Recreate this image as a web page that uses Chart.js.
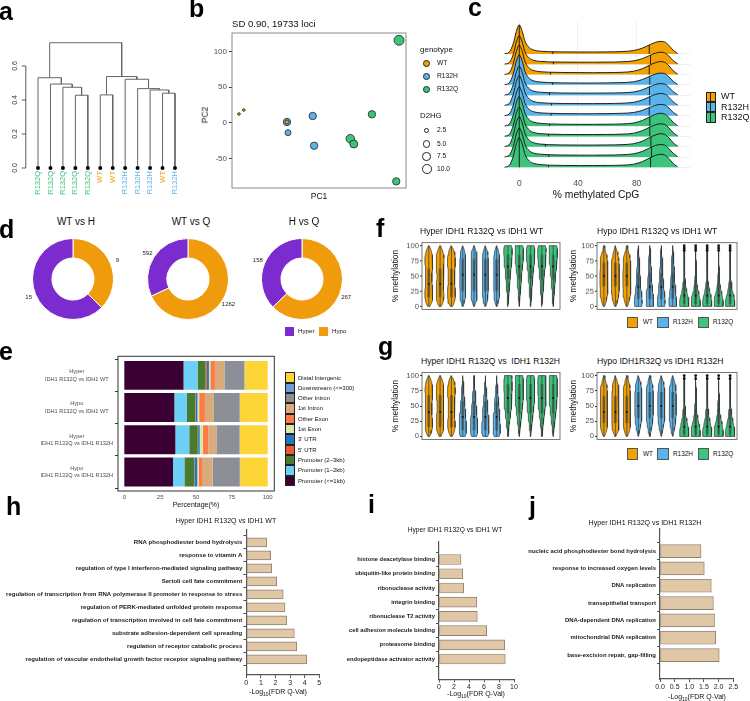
<!DOCTYPE html>
<html>
<head>
<meta charset="utf-8">
<title>IDH1 R132Q methylation panels</title>
<script src="https://cdn.jsdelivr.net/npm/chart.js@4.4.1/dist/chart.umd.min.js"></script>
<style>
  html, body { margin: 0; padding: 0; background: #fff; }
  #fig { position: relative; width: 750px; height: 701px; overflow: hidden;
         font-family: "Liberation Sans", Arial, Helvetica, sans-serif; color: #111; }
  #fig canvas { position: absolute; }
  .t { position: absolute; white-space: nowrap; }
  .key { position: absolute; box-sizing: border-box; }
</style>
</head>
<body>
<div id="fig"></div>
<script>
// ---------- a: hierarchical clustering (hclust style: negative = leaf, positive = earlier merge)
var leafLabels = ["R132Q", "R132Q", "R132Q", "R132Q", "R132Q", "WT", "WT", "R132H", "R132H", "R132H", "WT", "R132H"];
var mergeLeft = [-4, -3, -2, -1, -6, -11, -10, -9, -8, 5, 4];
var mergeRight = [-5, 1, 2, 3, -7, -12, 6, 7, 8, 9, 10];
var mergeHeight = [0.428, 0.475, 0.494, 0.531, 0.430, 0.440, 0.459, 0.467, 0.522, 0.538, 0.737];
var dendroTicks = [0, 0.2, 0.4, 0.6];

// ---------- b: PCA
var pcaGenotype = ["WT", "WT", "WT", "R132H", "R132H", "R132H", "R132H", "R132Q", "R132Q", "R132Q", "R132Q", "R132Q"];
var pc1 = [-100, -93, -31, -31, -29.5, 6, 8, 91, 60, 65, 130, 126];
var pc2 = [12.6, 18.2, 1.4, 1.4, -13.6, 9.8, -31.8, 12.2, -22, -29.4, 115.8, -81.7];
var d2hg = [0.3, 0.3, 1.1, 5.4, 3.2, 5.4, 5.4, 5.4, 7.7, 6.5, 11, 5.4];
var pc2Ticks = [-50, 0, 50, 100];
var d2hgLegend = [2.5, 5.0, 7.5, 10.0];

// ---------- c: ridgelines of % methylated CpG
var ridgeGenotype = ["WT", "WT", "WT", "R132H", "R132H", "R132H", "R132H", "R132Q", "R132Q", "R132Q", "R132Q", "R132Q"];
var ridgeX = [-10, -7, -4, -2, 0, 2, 4, 7, 10, 15, 20, 30, 40, 50, 60, 70, 78, 84, 89, 93, 96, 99, 102, 105, 108];
var ridgeDensity = [
  [0.02, 0.15, 1.05, 2.2, 2.82, 2.2, 1.2, 0.6, 0.37, 0.26, 0.22, 0.2, 0.19, 0.19, 0.2, 0.23, 0.33, 0.57, 0.9, 1.13, 1.22, 1.17, 0.83, 0.35, 0.04],
  [0.02, 0.14, 1.0, 2.15, 2.75, 2.15, 1.15, 0.58, 0.37, 0.27, 0.23, 0.21, 0.2, 0.2, 0.21, 0.24, 0.33, 0.55, 0.86, 1.08, 1.17, 1.12, 0.8, 0.34, 0.04],
  [0.02, 0.15, 1.08, 2.25, 2.85, 2.25, 1.22, 0.61, 0.38, 0.27, 0.23, 0.2, 0.19, 0.18, 0.19, 0.22, 0.32, 0.58, 0.92, 1.16, 1.26, 1.2, 0.85, 0.36, 0.04],
  [0.02, 0.16, 1.1, 2.3, 2.9, 2.3, 1.25, 0.62, 0.38, 0.27, 0.22, 0.19, 0.18, 0.18, 0.19, 0.22, 0.3, 0.52, 0.84, 1.05, 1.14, 1.1, 0.78, 0.33, 0.04],
  [0.02, 0.15, 1.06, 2.22, 2.82, 2.22, 1.2, 0.6, 0.38, 0.28, 0.24, 0.21, 0.2, 0.2, 0.21, 0.23, 0.31, 0.52, 0.83, 1.04, 1.12, 1.08, 0.77, 0.33, 0.04],
  [0.02, 0.16, 1.12, 2.3, 2.88, 2.28, 1.24, 0.61, 0.37, 0.26, 0.22, 0.19, 0.18, 0.18, 0.19, 0.22, 0.31, 0.54, 0.86, 1.08, 1.16, 1.12, 0.8, 0.34, 0.04],
  [0.02, 0.15, 1.05, 2.2, 2.8, 2.2, 1.19, 0.6, 0.38, 0.28, 0.24, 0.21, 0.2, 0.2, 0.21, 0.24, 0.32, 0.53, 0.82, 1.02, 1.1, 1.06, 0.76, 0.32, 0.04],
  [0.02, 0.16, 1.1, 2.28, 2.86, 2.26, 1.22, 0.6, 0.37, 0.26, 0.21, 0.18, 0.17, 0.17, 0.18, 0.21, 0.3, 0.55, 0.9, 1.14, 1.24, 1.18, 0.84, 0.36, 0.04],
  [0.02, 0.15, 1.08, 2.25, 2.84, 2.24, 1.21, 0.6, 0.37, 0.26, 0.22, 0.19, 0.18, 0.18, 0.19, 0.22, 0.31, 0.56, 0.9, 1.13, 1.22, 1.17, 0.83, 0.35, 0.04],
  [0.02, 0.17, 1.15, 2.35, 2.92, 2.3, 1.24, 0.61, 0.37, 0.25, 0.2, 0.17, 0.16, 0.16, 0.17, 0.2, 0.29, 0.54, 0.9, 1.15, 1.26, 1.2, 0.86, 0.37, 0.04],
  [0.02, 0.15, 1.06, 2.22, 2.82, 2.22, 1.2, 0.6, 0.37, 0.27, 0.22, 0.19, 0.18, 0.18, 0.19, 0.22, 0.31, 0.55, 0.89, 1.12, 1.21, 1.16, 0.82, 0.35, 0.04],
  [0.02, 0.16, 1.1, 2.28, 2.88, 2.27, 1.22, 0.6, 0.37, 0.26, 0.21, 0.18, 0.17, 0.17, 0.18, 0.21, 0.3, 0.56, 0.92, 1.16, 1.26, 1.2, 0.85, 0.36, 0.04]
];
var ridgeQ1 = [0, 0, 0, 0, 0, 0, 0, 0, 0, 0, 0, 0];
var ridgeMedian = [22.8, 23.3, 21.3, 22.8, 20.6, 22.0, 21.6, 20.6, 19.9, 17.8, 20.2, 19.9];
var ridgeQ3 = [88.6, 89.5, 88.6, 89.0, 88.8, 89.0, 88.6, 89.0, 89.0, 89.7, 90.2, 89.5];
var ridgeTicks = [0, 40, 80];

// ---------- d: DMR counts
var donutTitles = ["WT vs H", "WT vs Q", "H vs Q"];
var donutHypo = [9, 1262, 267];
var donutHyper = [15, 592, 158];

// ---------- e: genomic annotation (%)
var featureRows = [["Hyper", "IDH1 R132Q vs IDH1 WT"], ["Hypo", "IDH1 R132Q vs IDH1 WT"],
                   ["Hyper", "IDH1 R132Q vs IDH1 R132H"], ["Hypo", "IDH1 R132Q vs IDH1 R132H"]];
var featureNames = ["Promoter (<=1kb)", "Promoter (1\u20132kb)", "Promoter (2\u20133kb)", "5' UTR", "3' UTR",
                    "1st Exon", "Other Exon", "1st Intron", "Other Intron", "Downstream (<=300)", "Distal Intergenic"];
var promoter1kb = [41.3, 34.9, 35.6, 34.0];
var promoter2kb = [9.8, 8.8, 9.7, 7.9];
var promoter3kb = [5.6, 5.8, 5.9, 6.7];
var utr5 = [0.9, 0.3, 0.3, 0.3];
var utr3 = [1.4, 1.2, 1.1, 2.0];
var exon1 = [1.0, 1.2, 2.3, 0.9];
var exonOther = [3.2, 4.0, 3.7, 2.4];
var intron1 = [6.6, 6.3, 5.6, 7.4];
var intronOther = [13.7, 17.9, 16.1, 18.9];
var downstream = [0.3, 0.3, 0.3, 0.3];
var distal = [16.2, 19.3, 19.4, 19.2];
var pctTicks = [0, 25, 50, 75, 100];

// ---------- f, g: violins (half width per 5% level, for WT / R132H / R132Q)
var violinGenotype = ["WT", "WT", "WT", "R132H", "R132H", "R132H", "R132H", "R132Q", "R132Q", "R132Q", "R132Q", "R132Q"];
var violinLevels = [0, 5, 10, 15, 20, 25, 30, 35, 40, 45, 50, 55, 60, 65, 70, 75, 80, 85, 90, 95, 100];
var methTicks = [0, 25, 50, 75, 100];
var fHyperWT = [0.10, 0.22, 0.30, 0.34, 0.35, 0.34, 0.32, 0.30, 0.28, 0.27, 0.27, 0.28, 0.30, 0.32, 0.34, 0.35, 0.34, 0.30, 0.24, 0.15, 0.03];
var fHyperH = [0.04, 0.12, 0.18, 0.21, 0.23, 0.24, 0.25, 0.25, 0.25, 0.25, 0.25, 0.25, 0.26, 0.26, 0.26, 0.25, 0.24, 0.22, 0.18, 0.10, 0.02];
var fHyperQ = [0.0, 0.02, 0.04, 0.06, 0.08, 0.10, 0.12, 0.14, 0.16, 0.18, 0.20, 0.22, 0.25, 0.28, 0.31, 0.33, 0.35, 0.36, 0.37, 0.37, 0.30];
var fHypoWT = [0.06, 0.15, 0.22, 0.27, 0.30, 0.32, 0.33, 0.34, 0.34, 0.34, 0.34, 0.34, 0.33, 0.33, 0.32, 0.30, 0.27, 0.22, 0.15, 0.08, 0.02];
var fHypoH = [0.30, 0.33, 0.33, 0.31, 0.28, 0.25, 0.22, 0.20, 0.18, 0.16, 0.15, 0.14, 0.12, 0.11, 0.10, 0.08, 0.07, 0.05, 0.04, 0.02, 0.01];
var fHypoQ = [0.38, 0.40, 0.38, 0.33, 0.27, 0.21, 0.16, 0.12, 0.09, 0.07, 0.06, 0.05, 0.04, 0.04, 0.03, 0.03, 0.02, 0.02, 0.02, 0.02, 0.01];
var gHyperWT = [0.08, 0.20, 0.28, 0.32, 0.33, 0.32, 0.30, 0.28, 0.27, 0.26, 0.26, 0.27, 0.29, 0.31, 0.33, 0.34, 0.33, 0.30, 0.24, 0.15, 0.03];
var gHyperH = [0.22, 0.30, 0.32, 0.32, 0.31, 0.29, 0.27, 0.25, 0.23, 0.21, 0.19, 0.17, 0.15, 0.13, 0.11, 0.09, 0.07, 0.05, 0.03, 0.02, 0.01];
var gHyperQ = [0.01, 0.03, 0.06, 0.09, 0.12, 0.15, 0.18, 0.21, 0.24, 0.27, 0.29, 0.31, 0.33, 0.34, 0.35, 0.36, 0.36, 0.36, 0.36, 0.35, 0.30];
var gHypoWT = [0.05, 0.15, 0.24, 0.28, 0.30, 0.30, 0.30, 0.30, 0.30, 0.30, 0.30, 0.30, 0.30, 0.30, 0.30, 0.29, 0.27, 0.23, 0.17, 0.09, 0.02];
var gHypoH = [0.02, 0.07, 0.13, 0.18, 0.22, 0.25, 0.27, 0.29, 0.30, 0.30, 0.30, 0.30, 0.30, 0.30, 0.29, 0.28, 0.26, 0.22, 0.16, 0.09, 0.02];
var gHypoQ = [0.38, 0.40, 0.38, 0.34, 0.29, 0.23, 0.18, 0.14, 0.11, 0.09, 0.07, 0.06, 0.05, 0.04, 0.04, 0.03, 0.03, 0.02, 0.02, 0.02, 0.01];
// box stats [q1, median, q3], whiskers [lo, hi], outliers — per WT / R132H / R132Q
var fHyperBox = [[15, 37, 62], [25, 52, 78], [45, 66, 85]];
var fHypoBox = [[33, 50, 72], [12, 32, 55], [4, 18, 42]];
var gHyperBox = [[15, 40, 68], [10, 32, 58], [38, 63, 86]];
var gHypoBox = [[22, 40, 66], [30, 50, 73], [3, 16, 45]];
var fHyperWhisk = [[0, 100], [0, 100], [3, 100]];
var fHypoWhisk = [[0, 100], [0, 100], [0, 88]];
var gHyperWhisk = [[0, 100], [0, 98], [5, 100]];
var gHypoWhisk = [[0, 100], [0, 100], [0, 90]];
var fHypoOut = [[], [], [92, 96, 100]];
var gHypoOut = [[], [], [95, 100]];

// ---------- h, i, j: GO enrichment, -log10(FDR q)
var hTerms = ["RNA phosphodiester bond hydrolysis", "response to vitamin A",
  "regulation of type I interferon-mediated signaling pathway", "Sertoli cell fate commitment",
  "regulation of transcription from RNA polymerase II promoter in response to stress",
  "regulation of PERK-mediated unfolded protein response", "regulation of transcription involved in cell fate commitment",
  "substrate adhesion-dependent cell spreading", "regulation of receptor catabolic process",
  "regulation of vascular endothelial growth factor receptor signaling pathway"];
var hValues = [1.40, 1.67, 1.74, 2.08, 2.53, 2.65, 2.77, 3.29, 3.45, 4.14];
var iTerms = ["histone deacetylase binding", "ubiquitin-like protein binding", "ribonuclease activity", "integrin binding",
  "ribonuclease T2 activity", "cell adhesion molecule binding", "proteasome binding", "endopeptidase activator activity"];
var iValues = [2.93, 3.16, 3.29, 5.03, 5.11, 6.36, 8.76, 8.84];
var jTerms = ["nucleic acid phosphodiester bond hydrolysis", "response to increased oxygen levels", "DNA replication",
  "transepithelial transport", "DNA-dependent DNA replication", "mitochondrial DNA replication", "base-excision repair, gap-filling"];
var jValues = [1.40, 1.51, 1.75, 1.82, 1.86, 1.90, 2.02];

// ---------- styles
var GENO = { WT: "#F3A102", R132H: "#59B4EB", R132Q: "#3CC47C" };
var GROUPS = ["WT", "R132H", "R132Q"];
var HYPER_COL = "#7C2BCE", HYPO_COL = "#F09B0B";
var FEATURE_COLORS = ["#3A0033", "#6DD0F7", "#4A7A2E", "#F2592F", "#1F78C0", "#D9E8A8",
                      "#FF7A45", "#D8AB7C", "#8C9096", "#6E9BE0", "#FDD536"];
var GO_FILL = "#E0C7A5", GO_EDGE = "#8F8172";

Chart.defaults.font.family = "'Liberation Sans', Arial, Helvetica, sans-serif";
Chart.defaults.animation = false;
Chart.defaults.responsive = false;
Chart.defaults.maintainAspectRatio = false;
Chart.defaults.events = [];
Chart.defaults.plugins.legend.display = false;
Chart.defaults.plugins.tooltip.enabled = false;

var fig = document.getElementById("fig");

function addCanvas(left, top, w, h) {
  var c = document.createElement("canvas");
  c.width = w; c.height = h;
  c.style.left = left + "px"; c.style.top = top + "px";
  c.style.width = w + "px"; c.style.height = h + "px";
  fig.appendChild(c);
  return c;
}

// text centred vertically on y; anchored left / centre / right on x
function txt(str, x, y, size, opt) {
  opt = opt || {};
  var d = document.createElement("div");
  d.className = "t";
  d.innerHTML = str;
  d.style.fontSize = size + "px";
  d.style.lineHeight = size + "px";
  d.style.color = opt.color || "#111";
  if (opt.bold) d.style.fontWeight = "bold";
  if (opt.rotate) {
    d.style.left = x + "px";
    d.style.top = y + "px";
    d.style.transform = "translate(-50%,-50%) rotate(-90deg)";
  } else {
    d.style.top = Math.round(y - size / 2) + "px";
    d.style.height = size + "px";
    if (opt.align === "center") {
      d.style.left = Math.round(x - 300) + "px"; d.style.width = "600px"; d.style.textAlign = "center";
    } else if (opt.align === "right") {
      d.style.left = Math.round(x - 600) + "px"; d.style.width = "600px"; d.style.textAlign = "right";
    } else {
      d.style.left = Math.round(x) + "px";
    }
  }
  fig.appendChild(d);
}

function key(x, y, w, h, fill, border, round) {
  var d = document.createElement("div");
  d.className = "key";
  d.style.left = x + "px"; d.style.top = y + "px";
  d.style.width = w + "px"; d.style.height = h + "px";
  d.style.background = fill;
  d.style.border = border;
  if (round) d.style.borderRadius = "50%";
  fig.appendChild(d);
  return d;
}

function ticksAt(values) {
  return function (s) { s.ticks = values.map(function (v) { return { value: v }; }); };
}

function radiusFor(v) { return 1.33 * Math.sqrt(v) + 0.6; }

var framePlugin = {
  id: "frame",
  afterDraw: function (chart, args, opts) {
    if (!opts || !opts.color) return;
    var a = chart.chartArea, ctx = chart.ctx, py = opts.padY || 0;
    ctx.save();
    ctx.strokeStyle = opts.color;
    ctx.lineWidth = opts.width || 1;
    ctx.strokeRect(a.left, a.top - py, a.right - a.left, a.bottom - a.top + 2 * py);
    ctx.restore();
  }
};
Chart.register(framePlugin);

// ================= a
(function () {
  var nodeX = [], nodeH = [], segs = [];
  function ref(r) { return r < 0 ? { x: -r, h: 0 } : { x: nodeX[r - 1], h: nodeH[r - 1] }; }
  mergeHeight.forEach(function (h, k) {
    var l = ref(mergeLeft[k]), r = ref(mergeRight[k]);
    segs.push([{ x: l.x, y: l.h }, { x: l.x, y: h }, { x: r.x, y: h }, { x: r.x, y: r.h }]);
    nodeX.push((l.x + r.x) / 2);
    nodeH.push(h);
  });
  var datasets = segs.map(function (s) {
    return { data: s, showLine: true, borderColor: "#666", borderWidth: 1, pointRadius: 0, clip: false };
  });
  datasets.unshift({
    data: leafLabels.map(function (l, i) { return { x: i + 1, y: 0 }; }),
    pointRadius: 2, pointBackgroundColor: "#000", pointBorderWidth: 0, clip: false
  });
  new Chart(addCanvas(0, 0, 190, 205), {
    type: "scatter",
    data: { datasets: datasets },
    options: {
      layout: { padding: { left: 31.8, right: 8.8, top: 40.5, bottom: 0 } },
      scales: {
        x: {
          type: "linear", min: 0.5, max: 12.5,
          afterBuildTicks: ticksAt(leafLabels.map(function (l, i) { return i + 1; })),
          afterFit: function (s) { s.height = 37; },
          grid: { display: false, drawTicks: false }, border: { display: false },
          ticks: {
            autoSkip: false, minRotation: 90, maxRotation: 90, padding: 3, font: { size: 7.5 },
            color: function (c) { return GENO[leafLabels[c.index]]; },
            callback: function (v, i) { return leafLabels[i]; }
          }
        },
        y: { display: false, min: 0, max: 0.75 }
      }
    },
    plugins: [{
      id: "rAxis",
      afterDraw: function (chart) {
        var ctx = chart.ctx, y = chart.scales.y, ax = chart.chartArea.left - 6;
        ctx.save();
        ctx.strokeStyle = "#333"; ctx.lineWidth = 0.8;
        ctx.beginPath();
        ctx.moveTo(ax, y.getPixelForValue(0)); ctx.lineTo(ax, y.getPixelForValue(0.6));
        dendroTicks.forEach(function (v) {
          var py = y.getPixelForValue(v);
          ctx.moveTo(ax, py); ctx.lineTo(ax - 4, py);
        });
        ctx.stroke();
        ctx.fillStyle = "#333"; ctx.font = "7px 'Liberation Sans', Arial";
        ctx.textAlign = "center"; ctx.textBaseline = "middle";
        dendroTicks.forEach(function (v) {
          ctx.save();
          ctx.translate(ax - 11, y.getPixelForValue(v));
          ctx.rotate(-Math.PI / 2);
          ctx.fillText(v.toFixed(1), 0, 0);
          ctx.restore();
        });
        ctx.restore();
      }
    }]
  });
})();

// ================= b
(function () {
  var datasets = GROUPS.map(function (g) {
    var idx = [];
    pcaGenotype.forEach(function (p, i) { if (p === g) idx.push(i); });
    return {
      data: idx.map(function (i) { return { x: pc1[i], y: pc2[i] }; }),
      pointRadius: idx.map(function (i) { return radiusFor(d2hg[i]); }),
      pointBackgroundColor: GENO[g], pointBorderColor: "#222", pointBorderWidth: 0.8, clip: false
    };
  });
  new Chart(addCanvas(190, 0, 290, 205), {
    type: "scatter",
    data: { datasets: datasets },
    options: {
      layout: { padding: { left: 0, right: 74, top: 33, bottom: 0 } },
      scales: {
        x: { type: "linear", min: -110, max: 140, ticks: { display: false },
             grid: { display: false, drawTicks: false }, border: { display: false },
             afterFit: function (s) { s.height = 17; } },
        y: { min: -91, max: 126, afterBuildTicks: ticksAt(pc2Ticks),
             ticks: { font: { size: 8 }, color: "#4D4D4D", padding: 2 },
             grid: { drawOnChartArea: false, tickLength: 3, color: "#333" }, border: { display: false },
             afterFit: function (s) { s.width = 42; } }
      },
      plugins: { frame: { color: "#8a8a8a", width: 1 } }
    }
  });
  txt("SD 0.90, 19733 loci", 232, 24, 9.6);
  txt("PC1", 319, 196, 8.5, { align: "center" });
  txt("PC2", 205, 115, 8.5, { align: "center", rotate: true });
  txt("genotype", 420, 49.5, 8);
  [63.3, 76.7, 89.3].forEach(function (cy, k) {
    key(426.7 - 3.4, cy - 3.4, 6.8, 6.8, GENO[GROUPS[k]], "0.8px solid #222", true);
    txt(GROUPS[k], 436.7, cy, 6.7);
  });
  txt("D2HG", 420, 116, 7.8);
  [130.7, 144, 156.7, 169.3].forEach(function (cy, k) {
    var r = radiusFor(d2hgLegend[k]);
    key(426.7 - r, cy - r, 2 * r, 2 * r, "#fff", "0.8px solid #222", true);
    txt(d2hgLegend[k].toFixed(1), 436.7, cy, 6.7);
  });
})();

// ================= c
(function () {
  var n = ridgeDensity.length;
  function heightAt(i, x) {
    var xs = ridgeX, d = ridgeDensity[i];
    for (var j = 0; j < xs.length - 1; j++) {
      if (x >= xs[j] && x <= xs[j + 1]) {
        var f = (x - xs[j]) / (xs[j + 1] - xs[j]);
        return d[j] + f * (d[j + 1] - d[j]);
      }
    }
    return 0;
  }
  var datasets = ridgeDensity.map(function (dens, i) {
    var base = n - 1 - i;
    return {
      data: ridgeX.map(function (x, j) { return { x: x, y: base + dens[j] }; }),
      showLine: true, fill: { value: base }, backgroundColor: GENO[ridgeGenotype[i]],
      borderColor: "#111", borderWidth: 0.9, pointRadius: 0, cubicInterpolationMode: "monotone",
      order: n - 1 - i
    };
  });
  new Chart(addCanvas(480, 0, 270, 205), {
    type: "scatter",
    data: { datasets: datasets },
    options: {
      layout: { padding: { left: 24, right: 60, top: 22, bottom: 0 } },
      scales: {
        x: { type: "linear", min: -10.4, max: 116.4, afterBuildTicks: ticksAt(ridgeTicks),
             ticks: { font: { size: 8.5 }, color: "#4D4D4D", padding: 8 },
             grid: { color: "#EBEBEB", lineWidth: 0.8, drawTicks: false }, border: { display: false },
             afterFit: function (s) { s.height = 34.6; } },
        y: { min: -0.3, max: 14.1,
             afterBuildTicks: ticksAt(ridgeDensity.map(function (d, i) { return i; })),
             ticks: { display: false }, grid: { color: "#EBEBEB", lineWidth: 0.8, drawTicks: false },
             border: { display: false }, afterFit: function (s) { s.width = 0; } }
      }
    },
    plugins: [{
      id: "quantiles",
      afterDatasetDraw: function (chart, args) {
        var i = args.index, base = n - 1 - i, ctx = chart.ctx;
        var xs = chart.scales.x, ys = chart.scales.y;
        ctx.save();
        ctx.strokeStyle = "#111"; ctx.lineWidth = 0.9;
        ctx.beginPath();
        [ridgeQ1[i], ridgeMedian[i], ridgeQ3[i]].forEach(function (q) {
          var px = xs.getPixelForValue(q);
          ctx.moveTo(px, ys.getPixelForValue(base));
          ctx.lineTo(px, ys.getPixelForValue(base + heightAt(i, q)));
        });
        ctx.stroke();
        ctx.restore();
      }
    }]
  });
  txt("% methylated CpG", 595.8, 195.5, 10.3, { align: "center" });
  [91.7, 102, 112.3].forEach(function (y, k) {
    var kd = key(706, y, 9.5, 10.3, GENO[GROUPS[k]], "0.8px solid #222");
    var line = document.createElement("div");
    line.style.cssText = "position:absolute;left:3.4px;top:0;width:0.9px;height:100%;background:#222";
    kd.appendChild(line);
    txt(GROUPS[k], 720.7, y + 5.2, 9);
  });
})();

// ================= d
(function () {
  var centers = [73.3, 188.3, 301.7];
  var labelPlugin = {
    id: "donutLabels",
    afterDatasetsDraw: function (chart) {
      var ctx = chart.ctx, meta = chart.getDatasetMeta(0), vals = chart.data.datasets[0].data;
      ctx.save();
      ctx.font = "6px 'Liberation Sans', Arial"; ctx.fillStyle = "#222";
      ctx.textAlign = "center"; ctx.textBaseline = "middle";
      meta.data.forEach(function (arc, k) {
        var p = arc.getProps(["x", "y", "startAngle", "endAngle", "outerRadius"], true);
        var mid = (p.startAngle + p.endAngle) / 2, r = p.outerRadius + 7.5;
        ctx.fillText(String(vals[k]), p.x + Math.cos(mid) * r, p.y + Math.sin(mid) * r);
      });
      ctx.restore();
    }
  };
  donutTitles.forEach(function (title, k) {
    new Chart(addCanvas(centers[k] - 60, 229, 120, 100), {
      type: "doughnut",
      data: { labels: ["Hypo", "Hyper"],
              datasets: [{ data: [donutHypo[k], donutHyper[k]], backgroundColor: [HYPO_COL, HYPER_COL],
                           borderColor: "#fff", borderWidth: 1 }] },
      options: { cutout: "52%", layout: { padding: { left: 19, right: 19, top: 9, bottom: 9 } } },
      plugins: [labelPlugin]
    });
    txt(title, centers[k] + 2.5, 222, 10, { align: "center" });
  });
  key(285, 327.3, 9, 8.5, HYPER_COL, "none");
  txt("Hyper", 297.7, 331.5, 6.2);
  key(319, 327.3, 9, 8.5, HYPO_COL, "none");
  txt("Hypo", 331.7, 331.5, 6.2);
})();

// ================= e
(function () {
  var series = [promoter1kb, promoter2kb, promoter3kb, utr5, utr3, exon1, exonOther, intron1, intronOther, downstream, distal];
  new Chart(addCanvas(0, 350, 285, 160), {
    type: "bar",
    data: {
      labels: featureRows,
      datasets: series.map(function (s, k) {
        return { label: featureNames[k], data: s, backgroundColor: FEATURE_COLORS[k], borderWidth: 0,
                 barPercentage: 0.9, categoryPercentage: 1 };
      })
    },
    options: {
      indexAxis: "y",
      layout: { padding: { left: 0, right: 10.7, top: 9, bottom: 0 } },
      scales: {
        x: { stacked: true, min: -4.4, max: 104.6, afterBuildTicks: ticksAt(pctTicks),
             ticks: { font: { size: 6 }, color: "#4D4D4D", padding: 6, maxRotation: 0 },
             grid: { display: false, drawTicks: false }, border: { display: false },
             afterFit: function (s) { s.height = 22; } },
        y: { stacked: true,
             ticks: { crossAlign: "center", font: { size: 5.6, lineHeight: 1.3 }, color: "#4D4D4D", padding: 2 },
             grid: { drawOnChartArea: false, tickLength: 3, color: "#333" }, border: { display: false },
             afterFit: function (s) { s.width = 118; } }
      },
      plugins: { frame: { color: "#333", width: 1, padY: 3 } }
    }
  });
  txt("Percentage(%)", 196, 504, 7, { align: "center" });
  for (var k = 0; k < featureNames.length; k++) {
    var idx = featureNames.length - 1 - k, top = 372.3 + k * 10.33;
    key(285, top, 9.5, 10.33, FEATURE_COLORS[idx], "0.8px solid #222");
    txt(featureNames[idx], 298, top + 5.2, 6);
  }
})();

// ================= f, g
function violinPanel(box, profiles, quart, whisk, outl) {
  var yAxisW = 22;
  var datasets = violinGenotype.map(function (g, i) {
    var prof = profiles[GROUPS.indexOf(g)], pts = [];
    violinLevels.forEach(function (lv, j) { pts.push({ x: i + 1 - prof[j], y: lv }); });
    for (var j = violinLevels.length - 1; j >= 0; j--) pts.push({ x: i + 1 + prof[j], y: violinLevels[j] });
    pts.push({ x: pts[0].x, y: pts[0].y });
    return { data: pts, showLine: true, fill: "shape", backgroundColor: GENO[g], borderColor: "#333",
             borderWidth: 0.7, pointRadius: 0, tension: 0 };
  });
  new Chart(addCanvas(box.l - yAxisW, box.t - 4, box.r - box.l + yAxisW + 3, box.b - box.t + 8), {
    type: "scatter",
    data: { datasets: datasets },
    options: {
      layout: { padding: { left: 0, right: 3, top: 4, bottom: 4 } },
      scales: {
        x: { type: "linear", min: 0.4, max: 12.6, display: false },
        y: { min: -5, max: 105, afterBuildTicks: ticksAt(methTicks),
             ticks: { font: { size: 7.6 }, color: "#4D4D4D", padding: 1 },
             grid: { drawOnChartArea: false, tickLength: 2, color: "#333" }, border: { display: false },
             afterFit: function (s) { s.width = yAxisW; } }
      },
      plugins: { frame: { color: "#555", width: 0.8 } }
    },
    plugins: [{
      id: "vbox",
      afterDatasetsDraw: function (chart) {
        var ctx = chart.ctx, xs = chart.scales.x, ys = chart.scales.y;
        ctx.save();
        violinGenotype.forEach(function (g, i) {
          var gi = GROUPS.indexOf(g), q = quart[gi], w = whisk[gi], px = xs.getPixelForValue(i + 1);
          ctx.strokeStyle = "#333"; ctx.lineWidth = 0.7;
          ctx.beginPath();
          ctx.moveTo(px, ys.getPixelForValue(w[0])); ctx.lineTo(px, ys.getPixelForValue(w[1]));
          ctx.stroke();
          var top = ys.getPixelForValue(q[2]), bot = ys.getPixelForValue(q[0]);
          ctx.fillStyle = "rgba(60,60,60,0.55)";
          ctx.fillRect(px - 1.4, top, 2.8, bot - top);
          ctx.fillStyle = "#111";
          ctx.beginPath(); ctx.arc(px, ys.getPixelForValue(q[1]), 1, 0, 2 * Math.PI); ctx.fill();
          (outl ? outl[gi] : []).forEach(function (v) {
            ctx.beginPath(); ctx.arc(px, ys.getPixelForValue(v), 1.4, 0, 2 * Math.PI); ctx.fill();
          });
        });
        ctx.restore();
      }
    }]
  });
}
violinPanel({ l: 421.7, r: 560.5, t: 241, b: 310.7 }, [fHyperWT, fHyperH, fHyperQ], fHyperBox, fHyperWhisk, null);
violinPanel({ l: 596.7, r: 736.7, t: 241, b: 310.7 }, [fHypoWT, fHypoH, fHypoQ], fHypoBox, fHypoWhisk, fHypoOut);
violinPanel({ l: 421.7, r: 560.5, t: 370.7, b: 440.7 }, [gHyperWT, gHyperH, gHyperQ], gHyperBox, gHyperWhisk, null);
violinPanel({ l: 596.7, r: 736.7, t: 370.7, b: 440.7 }, [gHypoWT, gHypoH, gHypoQ], gHypoBox, gHypoWhisk, gHypoOut);

txt("Hyper IDH1 R132Q vs IDH1 WT", 420, 231, 8.6);
txt("Hypo IDH1 R132Q vs IDH1 WT", 596.7, 231, 8.6);
txt("Hyper IDH1 R132Q vs&nbsp; IDH1 R132H", 420.7, 361.7, 8.6);
txt("Hypo IDH1R32Q vs IDH1 R132H", 596.7, 361.7, 8.6);
[[395, 276], [572.7, 276], [395, 405.7], [572.7, 405.7]].forEach(function (p) {
  txt("% methylation", p[0], p[1], 8.3, { align: "center", rotate: true });
});
[316.7, 448.3].forEach(function (y) {
  [626.7, 657.3, 697.7].forEach(function (x, k) {
    key(x, y, 11.5, 11.7, GENO[GROUPS[k]], "0.8px solid #555");
    txt(GROUPS[k], [642.7, 673, 713][k], y + 5.9, 6.4);
  });
});

// ================= h, i, j
function goPanel(left, top, w, h, area, terms, values, yRange, xMax, xStep, dec, barPx, labelPx) {
  var xt = [];
  for (var k = 0; k * xStep <= xMax + 1e-9; k++) xt.push(Math.round(k * xStep * 100) / 100);
  new Chart(addCanvas(left, top, w, h), {
    type: "bar",
    data: { datasets: [{ data: values.map(function (v, i) { return { x: v, y: i }; }),
                         backgroundColor: GO_FILL, borderColor: GO_EDGE, borderWidth: 0.9,
                         borderSkipped: false, barThickness: barPx }] },
    options: {
      indexAxis: "y",
      layout: { padding: { left: 0, right: left + w - area.r, top: area.t - top, bottom: 0 } },
      scales: {
        x: { type: "linear", min: 0, max: xMax, afterBuildTicks: ticksAt(xt),
             ticks: { font: { size: 7 }, color: "#222", padding: 1, minRotation: 0, maxRotation: 0,
                      autoSkip: false, callback: function (v) { return v.toFixed(dec); } },
             grid: { drawOnChartArea: false, tickLength: 3, color: "#555" }, border: { color: "#555", width: 1.2 },
             afterFit: function (s) { s.height = top + h - area.b; } },
        y: { type: "linear", reverse: true, min: yRange[0], max: yRange[1],
             afterBuildTicks: ticksAt(terms.map(function (t, i) { return i; })),
             ticks: { autoSkip: false, font: { size: labelPx, weight: "bold" }, color: "#1a1a1a", padding: 1,
                      callback: function (v) { return terms[v]; } },
             grid: { drawOnChartArea: false, tickLength: 3, color: "#555" }, border: { color: "#555", width: 1.2 },
             afterFit: function (s) { s.width = area.l - left; } }
      }
    }
  });
}
goPanel(0, 510, 330, 190, { l: 246.3, r: 319.3, t: 530, b: 675 }, hTerms, hValues, [-0.395, 9.65], 5, 1, 0, 9, 6.05);
goPanel(330, 510, 195, 190, { l: 439, r: 514, t: 541.7, b: 679.3 }, iTerms, iValues, [-0.65, 7.82], 10, 2, 0, 10, 5.8);
goPanel(525, 510, 225, 190, { l: 660, r: 733.3, t: 529, b: 679 }, jTerms, jValues, [-0.657, 6.76], 2.5, 0.5, 1, 13, 5.95);

var logTitle = "-Log<span style=\"font-size:70%;vertical-align:-2px\">10</span>(FDR Q-Val)";
txt("Hyper IDH1 R132Q vs IDH1 WT", 225.7, 520, 7, { align: "center" });
txt(logTitle, 278.3, 691.7, 7, { align: "center" });
txt("Hyper IDH1 R132Q vs IDH1 WT", 455, 530.7, 6.6, { align: "center" });
txt(logTitle, 476.3, 693, 7, { align: "center" });
txt("Hyper IDH1 R132Q vs IDH1 R132H", 645, 523.3, 7.1, { align: "center" });
txt(logTitle, 696.7, 696, 7, { align: "center" });

// ================= panel letters
[["a", -1, 11.3], ["b", 189, 8], ["c", 468, 7.3], ["d", -1, 229.7], ["e", -1, 351.3],
 ["f", 376, 228], ["g", 378, 346], ["h", 5.5, 506.3], ["i", 368, 504.6], ["j", 529, 506]].forEach(function (l) {
  txt(l[0], l[1], l[2], 25, { bold: true, color: "#000" });
});
</script>
</body>
</html>
